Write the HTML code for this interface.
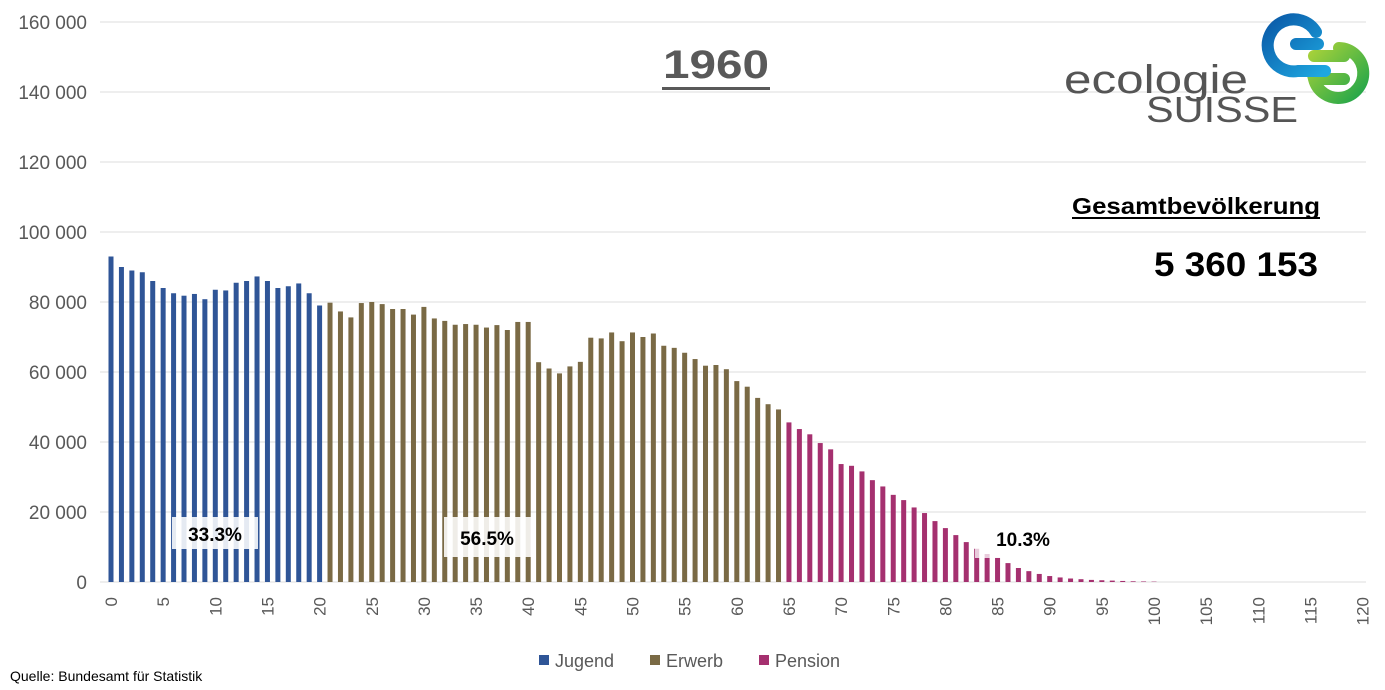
<!DOCTYPE html>
<html><head><meta charset="utf-8"><style>
body{margin:0;background:#fff;}
svg{display:block;font-family:"Liberation Sans",sans-serif;}
</style></head><body>
<svg id="s" width="1385" height="690" viewBox="0 0 1385 690" xmlns="http://www.w3.org/2000/svg">
<rect width="1385" height="690" fill="#fff"/>
<g id="grid" stroke="#e3e3e3" stroke-width="1.2"></g>
<g id="ylab" font-size="19" fill="#595959" text-anchor="end"></g>
<g id="bars"></g>
<rect x="172" y="517" width="86" height="32" fill="#fff" opacity="0.88"/>
<text x="215" y="541" font-size="19" font-weight="bold" text-anchor="middle" fill="#000">33.3%</text>
<rect x="444" y="517" width="87" height="40" fill="#fff" opacity="0.88"/>
<text x="487" y="545" font-size="19" font-weight="bold" text-anchor="middle" fill="#000">56.5%</text>
<rect x="975" y="527" width="80" height="31" fill="#fff" opacity="0.75"/>
<text x="1023" y="546" font-size="19" font-weight="bold" text-anchor="middle" fill="#000">10.3%</text>
<g id="xlab" font-size="17" fill="#595959"></g>
<text x="663" y="78" font-size="40" font-weight="bold" fill="#595959" textLength="106" lengthAdjust="spacingAndGlyphs">1960</text>
<rect x="662" y="87" width="108" height="3" fill="#595959"/>
<text x="1072" y="214" font-size="23" font-weight="bold" fill="#000" textLength="248" lengthAdjust="spacingAndGlyphs">Gesamtbevölkerung</text>
<rect x="1072" y="217" width="248" height="2" fill="#000"/>
<text x="1154" y="276" font-size="34" font-weight="bold" fill="#000" textLength="164" lengthAdjust="spacingAndGlyphs">5 360 153</text>
<defs>
<linearGradient id="gb" x1="0" y1="0" x2="1" y2="1"><stop offset="0" stop-color="#0a5aa8"/><stop offset="1" stop-color="#1ea7e0"/></linearGradient>
<linearGradient id="gg" x1="0" y1="0" x2="1" y2="1"><stop offset="0" stop-color="#a6d13a"/><stop offset="1" stop-color="#1fa54a"/></linearGradient>
</defs>
<path d="M1350 64 L1320 64 M1345 56 A25 25 0 1 1 1320 87 L1350 87" fill="none" stroke="url(#gg)" stroke-width="12" stroke-linecap="round" transform="translate(-6,-8)"/>
<path d="M1316 40 A26 26 0 1 0 1298 79 L1325 79 M1296 52 L1318 52" fill="none" stroke="url(#gb)" stroke-width="12" stroke-linecap="round" transform="translate(0,-8)"/>
<text x="1064" y="93" font-size="40" fill="#555" textLength="184" lengthAdjust="spacingAndGlyphs">ecologie</text>
<text x="1146" y="122" font-size="36" fill="#555" textLength="152" lengthAdjust="spacingAndGlyphs">SUISSE</text>
<rect x="539" y="655" width="10" height="10" fill="#2f5597"/><text x="555" y="667" font-size="18" fill="#595959">Jugend</text>
<rect x="650" y="655" width="10" height="10" fill="#7a6a45"/><text x="666" y="667" font-size="18" fill="#595959">Erwerb</text>
<rect x="759" y="655" width="10" height="10" fill="#a5306f"/><text x="775" y="667" font-size="18" fill="#595959">Pension</text>
<text x="10" y="681" font-size="14" fill="#000">Quelle: Bundesamt für Statistik</text>
</svg>
<script>
const ns="http://www.w3.org/2000/svg";
function el(t,a,p,txt){const e=document.createElementNS(ns,t);for(const k in a)e.setAttribute(k,a[k]);if(txt!=null)e.textContent=txt;document.getElementById(p).appendChild(e);}
const y0=582,k=70/20000;
for(let v=0;v<=160000;v+=20000){const y=y0-v*k;el('line',{x1:100,x2:1366,y1:y,y2:y},'grid');el('text',{x:87,y:y+7},'ylab',v==0?'0':(v/1000)+' 000');}
const d=[93,90,89,88.5,86,84,82.5,81.8,82.3,80.8,83.5,83.3,85.5,86,87.3,86,84,84.5,85.3,82.5,79,
79.8,77.3,75.6,79.7,80,79.4,78,78,76.4,78.6,75.3,74.6,73.5,73.7,73.5,72.7,73.4,72,74.3,74.3,62.8,61,59.6,61.6,62.9,69.8,69.6,71.3,68.8,71.3,70,71,67.5,66.9,65.5,63.7,61.8,62,60.8,57.4,55.8,52.6,50.8,49.3,
45.6,43.7,42.2,39.7,37.9,33.7,33.2,31.6,29.1,27.3,24.9,23.4,21.3,19.7,17.4,15.4,13.4,11.4,9.5,8,6.9,5.4,4,3.1,2.3,1.7,1.3,1,0.8,0.6,0.5,0.4,0.3,0.2,0.15,0.1];
const px=a=>111+a*10.43;
d.forEach((v,i)=>{const h=v*1000*k;const c=i<=20?'#2f5597':(i<=64?'#7a6a45':'#a5306f');el('rect',{x:px(i)-2.5,y:y0-h,width:5,height:h,fill:c},'bars');});
for(let a=0;a<=120;a+=5){const x=px(a)+6;el('text',{x:x,y:597,transform:`rotate(-90 ${x} 597)`,'text-anchor':'end'},'xlab',String(a));}
</script>
</body></html>
